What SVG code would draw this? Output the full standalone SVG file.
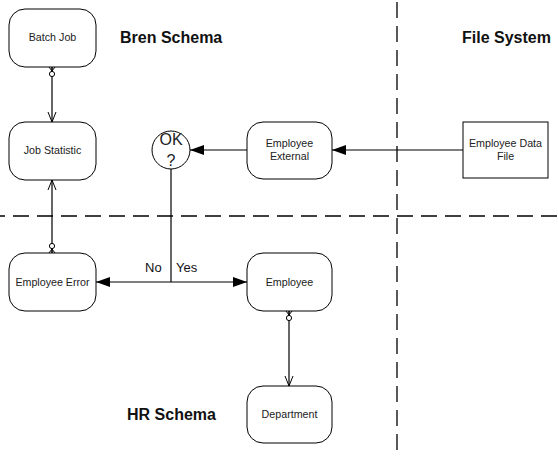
<svg xmlns="http://www.w3.org/2000/svg" width="558" height="456" viewBox="0 0 558 456">
<defs>
<style>
.node{fill:#fff;stroke:#000;stroke-width:1}
.lbl{font-family:"Liberation Sans",Arial,sans-serif;font-size:10.7px;fill:#222;text-anchor:middle}
.title{font-family:"Liberation Sans",Arial,sans-serif;font-size:16px;font-weight:bold;fill:#111}
.conn{stroke:#000;stroke-width:1.2;fill:none}
.dash{stroke:#000;stroke-width:1.3;stroke-dasharray:16 8;fill:none}
.yn{font-family:"Liberation Sans",Arial,sans-serif;font-size:13px;fill:#111}
</style>
<marker id="tri" viewBox="0 0 14 10" refX="14" refY="5" markerWidth="14" markerHeight="10" markerUnits="userSpaceOnUse" orient="auto">
<path d="M0,0 L14,5 L0,10 Z" fill="#000"/>
</marker>
<marker id="open" viewBox="0 0 10 10" refX="10" refY="5" markerWidth="10" markerHeight="10" markerUnits="userSpaceOnUse" orient="auto">
<path d="M0,1 L10,5 L0,9" fill="none" stroke="#000" stroke-width="1"/>
</marker>
<marker id="crow" viewBox="0 0 14 10" refX="0" refY="5" markerWidth="14" markerHeight="10" markerUnits="userSpaceOnUse" orient="auto">
<path d="M0,2 L4,5 L0,8 M0,5 L4,5" fill="none" stroke="#000" stroke-width="1"/>
<circle cx="7" cy="5" r="2.6" fill="#fff" stroke="#000" stroke-width="1"/>
</marker>
</defs>

<g id="swimlanes">
<line class="dash" x1="397" y1="2" x2="397" y2="456"/>
<line class="dash" x1="-11" y1="216" x2="558" y2="216"/>
</g>

<g id="titles">
<text class="title" x="120" y="43">Bren Schema</text>
<text class="title" x="462" y="43">File System</text>
<text class="title" x="127" y="420">HR Schema</text>
</g>

<g id="connectors">
<line class="conn" x1="52" y1="67" x2="52" y2="122" marker-start="url(#crow)" marker-end="url(#open)"/>
<line class="conn" x1="52" y1="253" x2="52" y2="180" marker-start="url(#crow)" marker-end="url(#open)"/>
<line class="conn" x1="289" y1="311" x2="289" y2="386" marker-start="url(#crow)" marker-end="url(#open)"/>
<line class="conn" x1="463" y1="150" x2="332" y2="150" marker-end="url(#tri)"/>
<line class="conn" x1="247" y1="150" x2="190" y2="150" marker-end="url(#tri)"/>
<line class="conn" x1="171" y1="169" x2="171" y2="282"/>
<line class="conn" x1="171" y1="282" x2="96" y2="282" marker-end="url(#tri)"/>
<line class="conn" x1="171" y1="282" x2="247" y2="282" marker-end="url(#tri)"/>
<text class="yn" x="145" y="272">No</text>
<text class="yn" x="176" y="272">Yes</text>
</g>

<g id="batch-job">
<rect class="node" x="9" y="9" width="87" height="58" rx="16"/>
<text class="lbl" x="52.5" y="41">Batch Job</text>
</g>
<g id="job-statistic">
<rect class="node" x="9" y="122" width="87" height="58" rx="16"/>
<text class="lbl" x="52.5" y="154">Job Statistic</text>
</g>
<g id="ok-decision">
<circle class="node" cx="171" cy="150" r="19"/>
<text class="lbl" x="171" y="145" style="font-size:16px">OK</text>
<text class="lbl" x="171" y="166" style="font-size:16px">?</text>
</g>
<g id="employee-external">
<rect class="node" x="247" y="122" width="85" height="57" rx="16"/>
<text class="lbl" x="289.5" y="147">Employee</text>
<text class="lbl" x="289.5" y="160">External</text>
</g>
<g id="employee-data-file">
<rect class="node" x="463" y="122" width="85" height="56"/>
<text class="lbl" x="505.5" y="147">Employee Data</text>
<text class="lbl" x="505.5" y="160">File</text>
</g>
<g id="employee-error">
<rect class="node" x="9" y="253" width="87" height="58" rx="16"/>
<text class="lbl" x="52.5" y="286">Employee Error</text>
</g>
<g id="employee">
<rect class="node" x="247" y="253" width="85" height="58" rx="16"/>
<text class="lbl" x="289.5" y="286">Employee</text>
</g>
<g id="department">
<rect class="node" x="247" y="386" width="85" height="57" rx="16"/>
<text class="lbl" x="289.5" y="418">Department</text>
</g>
</svg>
